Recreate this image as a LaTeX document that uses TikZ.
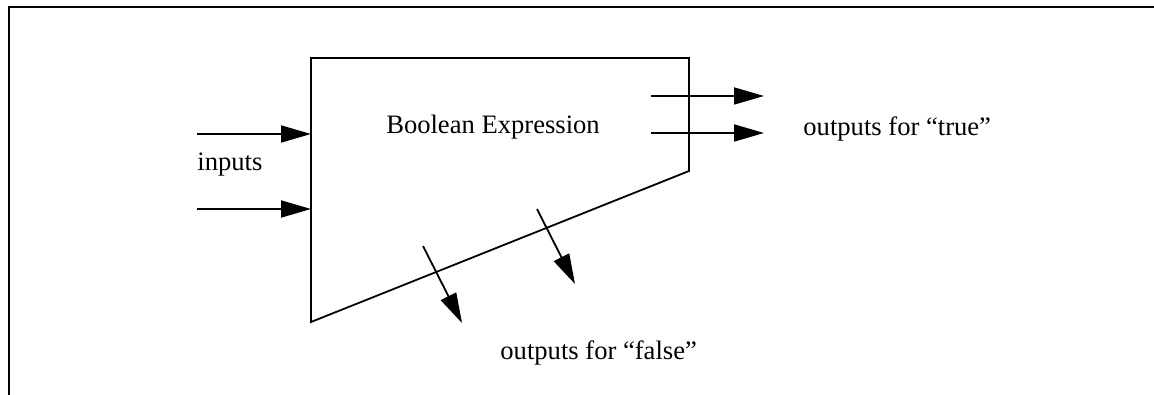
\documentclass[tikz,border=0pt]{standalone}
\usepackage{fontspec}
\setmainfont{Liberation Serif}
\usetikzlibrary{arrows.meta}
\begin{document}
\begin{tikzpicture}[x=0.5pt,y=-0.5pt,
  line/.style={line width=0.9pt, black},
  flow/.style={line, -{Triangle[length=15pt,width=8.5pt]}},
  lbl/.style={inner sep=0pt, font=\fontsize{13.3}{16}\selectfont}]
\useasboundingbox (0,0) rectangle (1154,395);
% frame
\coordinate (fbl) at (9,395);
\coordinate (ftl) at (9,7);
\coordinate (ftr) at (1154,7);
\draw[line] (fbl) -- (ftl) -- (ftr);
% box
\coordinate (b1) at (311,58);
\coordinate (b2) at (689,58);
\coordinate (b3) at (689,171);
\coordinate (b4) at (311,322);
\draw[line, line join=miter] (b1) -- (b2) -- (b3) -- (b4) -- cycle;
\node[lbl] (expr) at (493,127) {Boolean Expression};
% inputs
\coordinate (i1s) at (197,134);
\coordinate (i1e) at (311,134);
\coordinate (i2s) at (197,209);
\coordinate (i2e) at (311,209);
\draw[flow] (i1s) -- (i1e);
\draw[flow] (i2s) -- (i2e);
\node[lbl, anchor=west] (inputs) at (197,165) {inputs};
% true outputs
\coordinate (t1s) at (651,96);
\coordinate (t1e) at (764,96);
\coordinate (t2s) at (651,133);
\coordinate (t2e) at (764,133);
\draw[flow] (t1s) -- (t1e);
\draw[flow] (t2s) -- (t2e);
\node[lbl, anchor=west] (true) at (803,129) {outputs for “true”};
% false outputs
\coordinate (f1s) at (423,246);
\coordinate (f1e) at (462,323);
\coordinate (f2s) at (537,209);
\coordinate (f2e) at (575,284);
\draw[flow] (f1s) -- (f1e);
\draw[flow] (f2s) -- (f2e);
\node[lbl, anchor=west] (false) at (500,353) {outputs for “false”};
\end{tikzpicture}
\end{document}
